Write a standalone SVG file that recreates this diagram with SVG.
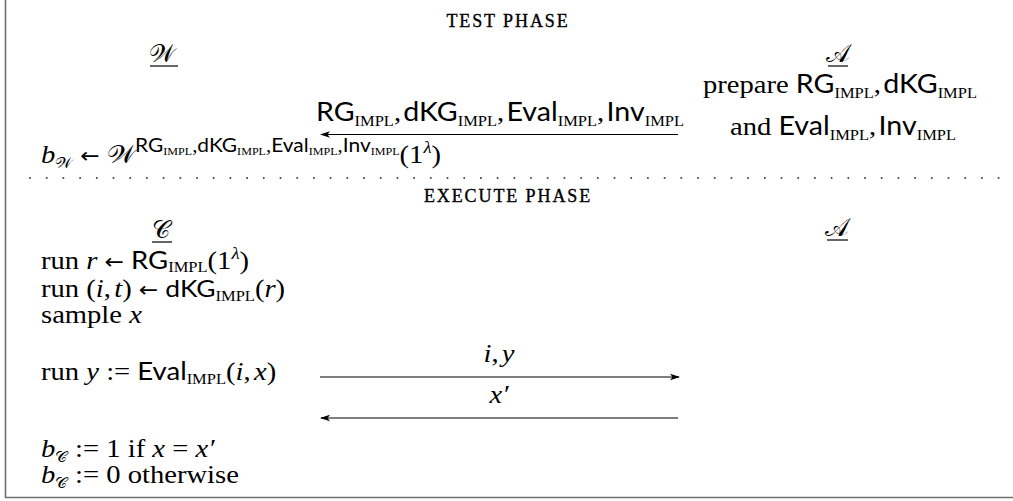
<svg xmlns="http://www.w3.org/2000/svg" width="1013" height="501" viewBox="0 0 1013 501">
<style>
.rm{font-family:"Liberation Serif",serif;font-size:26px;fill:#000}
.it{font-style:italic}
.cal{font-family:"Liberation Serif",serif;font-size:25px;fill:#000}
.sf{font-family:Lato,"Liberation Sans",sans-serif}
.sc{font-family:"Liberation Serif",serif;font-size:15px}
.ssc{font-family:"Liberation Serif",serif;font-size:11px}
.arr{font-family:"DejaVu Sans",sans-serif;font-size:21px}
.cap{font-family:"Liberation Serif",serif;font-size:18px;letter-spacing:1.9px;fill:#000;stroke:#000;stroke-width:0.35}
.conn{stroke:#000;stroke-width:1.1;fill:none}
.ul{stroke:#000;stroke-width:1.2}
</style>
<defs>
<marker id="ah" markerWidth="10" markerHeight="8" refX="9" refY="4" orient="auto" markerUnits="userSpaceOnUse"><path d="M0,0.8 L10,4 L0,7.2 L2.5,4 Z" fill="#000"/></marker>
</defs>
<path id="frame" d="M5.5,0 V497.5 H1013" stroke="#707070" stroke-width="1.6" fill="none"/>
<line id="separator" x1="30" y1="178" x2="1000" y2="178" stroke="#444" stroke-width="2" stroke-dasharray="0 16.7" stroke-linecap="round"/>
<g id="test-phase-title"><text class="cap" x="508" y="27" text-anchor="middle">TEST PHASE</text></g>
<g id="party-W"><text class="cal" x="149" y="62">𝒲</text><line class="ul" x1="150" y1="66" x2="178" y2="66"/></g>
<g id="party-A-test"><text class="cal" x="826" y="62">𝒜</text><line class="ul" x1="828" y1="66" x2="848" y2="66"/></g>
<g id="A-prepare">
<text class="rm" transform="translate(840,93) scale(1.1,1)" text-anchor="middle">prepare <tspan class="sf">RG</tspan><tspan class="sc" dy="5">IMPL</tspan><tspan dy="-5">,</tspan><tspan class="sf" dx="2">dKG</tspan><tspan class="sc" dy="5">IMPL</tspan></text>
<text class="rm" transform="translate(843,135) scale(1.1,1)" text-anchor="middle">and <tspan class="sf">Eval</tspan><tspan class="sc" dy="5">IMPL</tspan><tspan dy="-5">,</tspan><tspan class="sf" dx="2">Inv</tspan><tspan class="sc" dy="5">IMPL</tspan></text>
</g>
<g id="W-output"><text class="rm" transform="translate(41,163) scale(1.1,1)"><tspan class="it">b</tspan><tspan font-size="15" dy="5">𝒲</tspan><tspan dy="-5"> </tspan><tspan class="arr">←</tspan><tspan> </tspan><tspan font-size="25">𝒲</tspan><tspan class="sf" font-size="19" dy="-11">RG</tspan><tspan class="ssc" dy="3">IMPL</tspan><tspan font-size="19" dy="-3">,</tspan><tspan class="sf" font-size="19">dKG</tspan><tspan class="ssc" dy="3">IMPL</tspan><tspan font-size="19" dy="-3">,</tspan><tspan class="sf" font-size="19">Eval</tspan><tspan class="ssc" dy="3">IMPL</tspan><tspan font-size="19" dy="-3">,</tspan><tspan class="sf" font-size="19">Inv</tspan><tspan class="ssc" dy="3">IMPL</tspan><tspan dy="8">(1</tspan><tspan class="it" font-size="17" dy="-10">λ</tspan><tspan dy="10">)</tspan></text></g>
<g id="execute-phase-title"><text class="cap" x="508" y="202" text-anchor="middle">EXECUTE PHASE</text></g>
<g id="party-C"><text class="cal" x="152" y="238">𝒞</text><line class="ul" x1="152" y1="242" x2="172" y2="242"/></g>
<g id="party-A-exec"><text class="cal" x="825" y="236">𝒜</text><line class="ul" x1="827" y1="240" x2="848" y2="240"/></g>
<g id="C-steps">
<text class="rm" transform="translate(41,269) scale(1.1,1)">run <tspan class="it">r</tspan> <tspan class="arr">←</tspan> <tspan class="sf" font-size="25">RG</tspan><tspan class="sc" font-size="14" dy="3">IMPL</tspan><tspan dy="-3">(1</tspan><tspan class="it" font-size="17" dy="-10">λ</tspan><tspan dy="10">)</tspan></text>
<text class="rm" transform="translate(41,297) scale(1.1,1)">run (<tspan class="it">i</tspan>,<tspan class="it" dx="3">t</tspan>) <tspan class="arr">←</tspan> <tspan class="sf" font-size="24">dKG</tspan><tspan class="sc" dy="4">IMPL</tspan><tspan dy="-4">(</tspan><tspan class="it">r</tspan>)</text>
<text class="rm" transform="translate(41,323) scale(1.1,1)">sample <tspan class="it">x</tspan></text>
<text class="rm" transform="translate(41,380) scale(1.1,1)">run <tspan class="it">y</tspan> := <tspan class="sf" font-size="25">Eval</tspan><tspan class="sc" dy="4">IMPL</tspan><tspan dy="-4">(</tspan><tspan class="it">i</tspan>,<tspan class="it" dx="3">x</tspan>)</text>
<text class="rm" transform="translate(41,457) scale(1.1,1)"><tspan class="it">b</tspan><tspan font-size="15" dy="5">𝒞</tspan><tspan dy="-5"> := 1 if </tspan><tspan class="it">x</tspan> = <tspan class="it">x′</tspan></text>
<text class="rm" transform="translate(41,483) scale(1.1,1)"><tspan class="it">b</tspan><tspan font-size="15" dy="5">𝒞</tspan><tspan dy="-5"> := 0 otherwise</tspan></text>
</g>
<g id="connectors">
<line class="conn" x1="678" y1="134.5" x2="321" y2="134.5" marker-end="url(#ah)"/>
<text class="rm" transform="translate(500,121) scale(1.1,1)" text-anchor="middle"><tspan class="sf">RG</tspan><tspan class="sc" dy="5">IMPL</tspan><tspan dy="-5">,</tspan><tspan class="sf" dx="2">dKG</tspan><tspan class="sc" dy="5">IMPL</tspan><tspan dy="-5">,</tspan><tspan class="sf" dx="2">Eval</tspan><tspan class="sc" dy="5">IMPL</tspan><tspan dy="-5">,</tspan><tspan class="sf" dx="2">Inv</tspan><tspan class="sc" dy="5">IMPL</tspan></text>
<line class="conn" x1="320" y1="377" x2="679" y2="377" marker-end="url(#ah)"/>
<text class="rm" transform="translate(499,362) scale(1.1,1)" text-anchor="middle"><tspan class="it">i</tspan>,<tspan class="it" dx="3">y</tspan></text>
<line class="conn" x1="678" y1="418" x2="321" y2="418" marker-end="url(#ah)"/>
<text class="rm it" transform="translate(499,403) scale(1.1,1)" text-anchor="middle">x′</text>
</g>
</svg>
